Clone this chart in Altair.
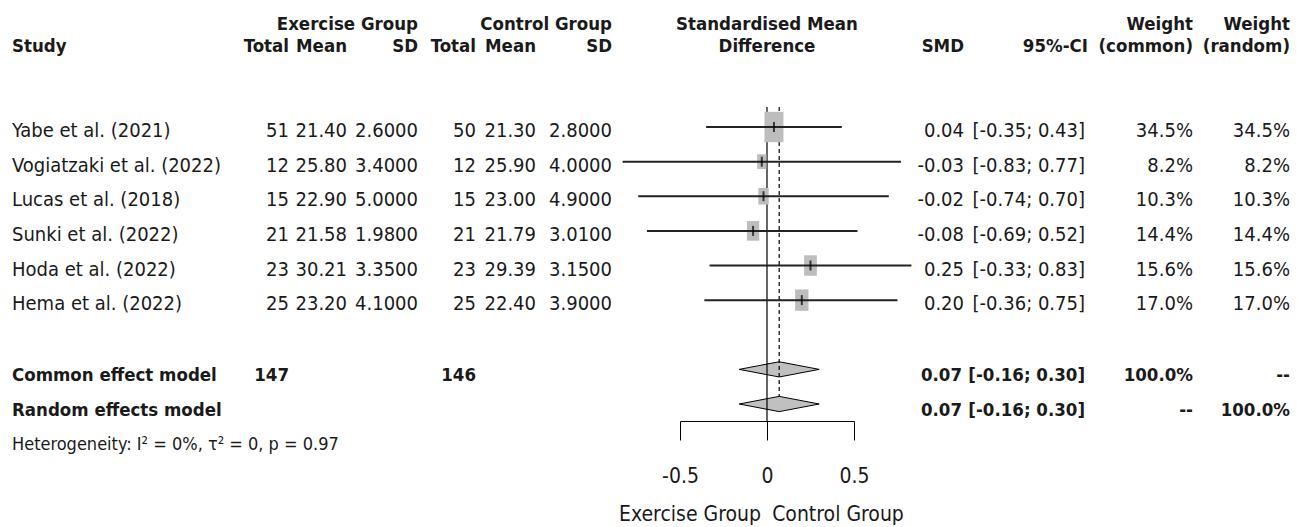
import altair as alt
import pandas as pd

# ---------------- data ----------------
studies = ["Yabe et al. (2021)", "Vogiatzaki et al. (2022)", "Lucas et al. (2018)",
           "Sunki et al. (2022)", "Hoda et al. (2022)", "Hema et al. (2022)"]
ex_total = [51, 12, 15, 21, 23, 25]
ex_mean = [21.40, 25.80, 22.90, 21.58, 30.21, 23.20]
ex_sd = [2.6, 3.4, 5.0, 1.98, 3.35, 4.1]
ct_total = [50, 12, 15, 21, 23, 25]
ct_mean = [21.30, 25.90, 23.00, 21.79, 29.39, 22.40]
ct_sd = [2.8, 4.0, 4.9, 3.01, 3.15, 3.9]
smd = [0.04, -0.03, -0.02, -0.08, 0.25, 0.20]
ci_lo = [-0.35, -0.83, -0.74, -0.69, -0.33, -0.36]
ci_hi = [0.43, 0.77, 0.70, 0.52, 0.83, 0.75]
w_common = [34.5, 8.2, 10.3, 14.4, 15.6, 17.0]
w_random = [34.5, 8.2, 10.3, 14.4, 15.6, 17.0]

models = ["Common effect model", "Random effects model"]
model_total_ex = ["147", ""]
model_total_ct = ["146", ""]
model_smd = [0.07, 0.07]
model_lo = [-0.16, -0.16]
model_hi = [0.30, 0.30]
model_wc = ["100.0%", "--"]
model_wr = ["--", "100.0%"]
heterogeneity = "Heterogeneity: I\u00b2 = 0%, \u03c4\u00b2 = 0, p = 0.97"
tick_values = [-0.5, 0, 0.5]

# ---------------- tables ----------------
f2 = lambda v: f"{v:.2f}"
df = pd.DataFrame({
    "row": list(range(len(studies))),
    "study": studies,
    "ext": [str(v) for v in ex_total],
    "exm": [f2(v) for v in ex_mean],
    "exs": [f"{v:.4f}" for v in ex_sd],
    "ctt": [str(v) for v in ct_total],
    "ctm": [f2(v) for v in ct_mean],
    "cts": [f"{v:.4f}" for v in ct_sd],
    "smd": smd,
    "lo": ci_lo,
    "hi": ci_hi,
    "smd_t": [f2(v) for v in smd],
    "ci_t": [f"[{f2(a)}; {f2(b)}]" for a, b in zip(ci_lo, ci_hi)],
    "wc": w_common,
    "wc_t": [f"{v:.1f}%" for v in w_common],
    "wr_t": [f"{v:.1f}%" for v in w_random],
})

mdf = pd.DataFrame({
    "row": [7, 8],
    "study": models,
    "ext": model_total_ex,
    "ctt": model_total_ct,
    "smd_t": [f2(v) for v in model_smd],
    "ci_t": [f"[{f2(a)}; {f2(b)}]" for a, b in zip(model_lo, model_hi)],
    "wc_t": model_wc,
    "wr_t": model_wr,
})

HALF = 0.22
drows = []
for r, name, e, a, b in zip([7, 8], models, model_smd, model_lo, model_hi):
    drows += [
        {"model": name, "x": a, "y": r, "y2": r},
        {"model": name, "x": e, "y": r - HALF, "y2": r + HALF},
        {"model": name, "x": b, "y": r, "y2": r},
    ]
ddf = pd.DataFrame(drows)

# ---------------- scales ----------------
FONT = "DejaVu Sans Condensed, sans-serif"
FS = 20      # body text
FB = 18.5    # bold text
INK = "#1a1a1a"
xs = alt.Scale(domain=[-0.5, 0.5], range=[672, 846], nice=False, zero=False)
ys = alt.Scale(domain=[0, 8], range=[119, 396], nice=False, zero=False)
AX = alt.Axis(orient="bottom", values=tick_values, tickSize=19, tickColor="black",
              domainColor="black", tickWidth=1, domainWidth=1, labelFont=FONT,
              labelFontSize=21, labelColor=INK, labelPadding=25, grid=False,
              title=None, labelExpr="'' + datum.value", labelFlush=False,
              labelOverlap=False)


def X(field):
    return alt.X(field, type="quantitative", scale=xs, axis=AX)


def Y(field):
    return alt.Y(field, type="quantitative", scale=ys, axis=None)


def col(data, field, xpx, align, bold=False, dy=10):
    return alt.Chart(data).mark_text(
        align=align, baseline="alphabetic", font=FONT,
        fontSize=FB if bold else FS,
        fontWeight="bold" if bold else "normal", color=INK, dy=dy,
    ).encode(x=alt.value(xpx), y=Y("row"), text=alt.Text(field, type="nominal"))


def head(label, xpx, ypx, align):
    return alt.Chart(pd.DataFrame({"t": [label]})).mark_text(
        align=align, baseline="alphabetic", font=FONT, fontSize=FB,
        fontWeight="bold", color=INK,
    ).encode(x=alt.value(xpx), y=alt.value(ypx), text="t:N")


# ---------------- forest layers ----------------
diamonds = alt.Chart(ddf).mark_area(
    fill="#c0c0c0", stroke="black", strokeWidth=1, orient="vertical", opacity=1
).encode(x=X("x"), y=Y("y"), y2="y2", detail="model:N")

zero_line = alt.Chart(pd.DataFrame({"x": [0.0]})).mark_rule(
    color="black", strokeWidth=1.2
).encode(x=X("x"), y=alt.value(99), y2=alt.value(413))

pooled_line = alt.Chart(pd.DataFrame({"x": [model_smd[0]]})).mark_rule(
    color="black", strokeWidth=1.2, strokeDash=[4, 3]
).encode(x=X("x"), y=alt.value(99), y2=alt.value(388))

squares = alt.Chart(df).mark_point(
    shape="M-1,-1.6L1,-1.6L1,1.6L-1,1.6Z", filled=True, color="#bdbdbd",
    opacity=1, strokeWidth=0
).encode(x=X("smd"), y=Y("row"),
         size=alt.Size("wc:Q", scale=alt.Scale(domain=[0, 34.5], range=[0, 361]), legend=None))

ci = alt.Chart(df).mark_rule(color="#222222", strokeWidth=2).encode(
    x=X("lo"), x2="hi", y=Y("row"))

est = alt.Chart(df).mark_tick(orient="vertical", color="black", thickness=2, size=10).encode(
    x=X("smd"), y=Y("row"))

# ---------------- text layers ----------------
layers = [diamonds, zero_line, pooled_line, squares, ci, est]

layers += [
    head("Exercise Group", 410, 22, "right"),
    head("Control Group", 604, 22, "right"),
    head("Standardised Mean", 759, 22, "center"),
    head("Weight", 1185, 22, "right"),
    head("Weight", 1282, 22, "right"),
    head("Study", 4, 44, "left"),
    head("Total", 281, 44, "right"),
    head("Mean", 339, 44, "right"),
    head("SD", 410, 44, "right"),
    head("Total", 468, 44, "right"),
    head("Mean", 528, 44, "right"),
    head("SD", 604, 44, "right"),
    head("Difference", 759, 44, "center"),
    head("SMD", 956, 44, "right"),
    head("95%-CI", 1080, 44, "right"),
    head("(common)", 1185, 44, "right"),
    head("(random)", 1282, 44, "right"),
]

for field, xpx, align in [("study", 4, "left"), ("ext", 281, "right"), ("exm", 339, "right"),
                          ("exs", 410, "right"), ("ctt", 468, "right"), ("ctm", 528, "right"),
                          ("cts", 604, "right"), ("smd_t", 956, "right"), ("ci_t", 1077, "right"),
                          ("wc_t", 1185, "right"), ("wr_t", 1282, "right")]:
    layers.append(col(df, field, xpx, align))

for field, xpx, align in [("study", 4, "left"), ("ext", 281, "right"), ("ctt", 468, "right"),
                          ("smd_t", 954, "right"), ("ci_t", 1077, "right"),
                          ("wc_t", 1185, "right"), ("wr_t", 1282, "right")]:
    layers.append(col(mdf, field, xpx, align, bold=True, dy=12))

layers.append(
    alt.Chart(pd.DataFrame({"row": [9], "t": [heterogeneity]})).mark_text(
        align="left", baseline="alphabetic", font=FONT, fontSize=18, color=INK, dy=11
    ).encode(x=alt.value(4), y=Y("row"), text="t:N")
)

for t, px in zip(["Exercise Group", "Control Group"], [682, 830]):
    layers.append(
        alt.Chart(pd.DataFrame({"t": [t]})).mark_text(
            align="center", baseline="alphabetic", font=FONT, fontSize=21, color=INK
        ).encode(x=alt.value(px), y=alt.value(513), text="t:N")
    )

chart = alt.layer(*layers).properties(
    width=1288, height=413,
    padding={"left": 0, "top": 0, "right": 0, "bottom": 106},
    autosize=alt.AutoSizeParams(type="none"),
).configure(background="white", view={"stroke": None})

chart.save("out.html", embed_options={"renderer": "svg", "actions": False})
